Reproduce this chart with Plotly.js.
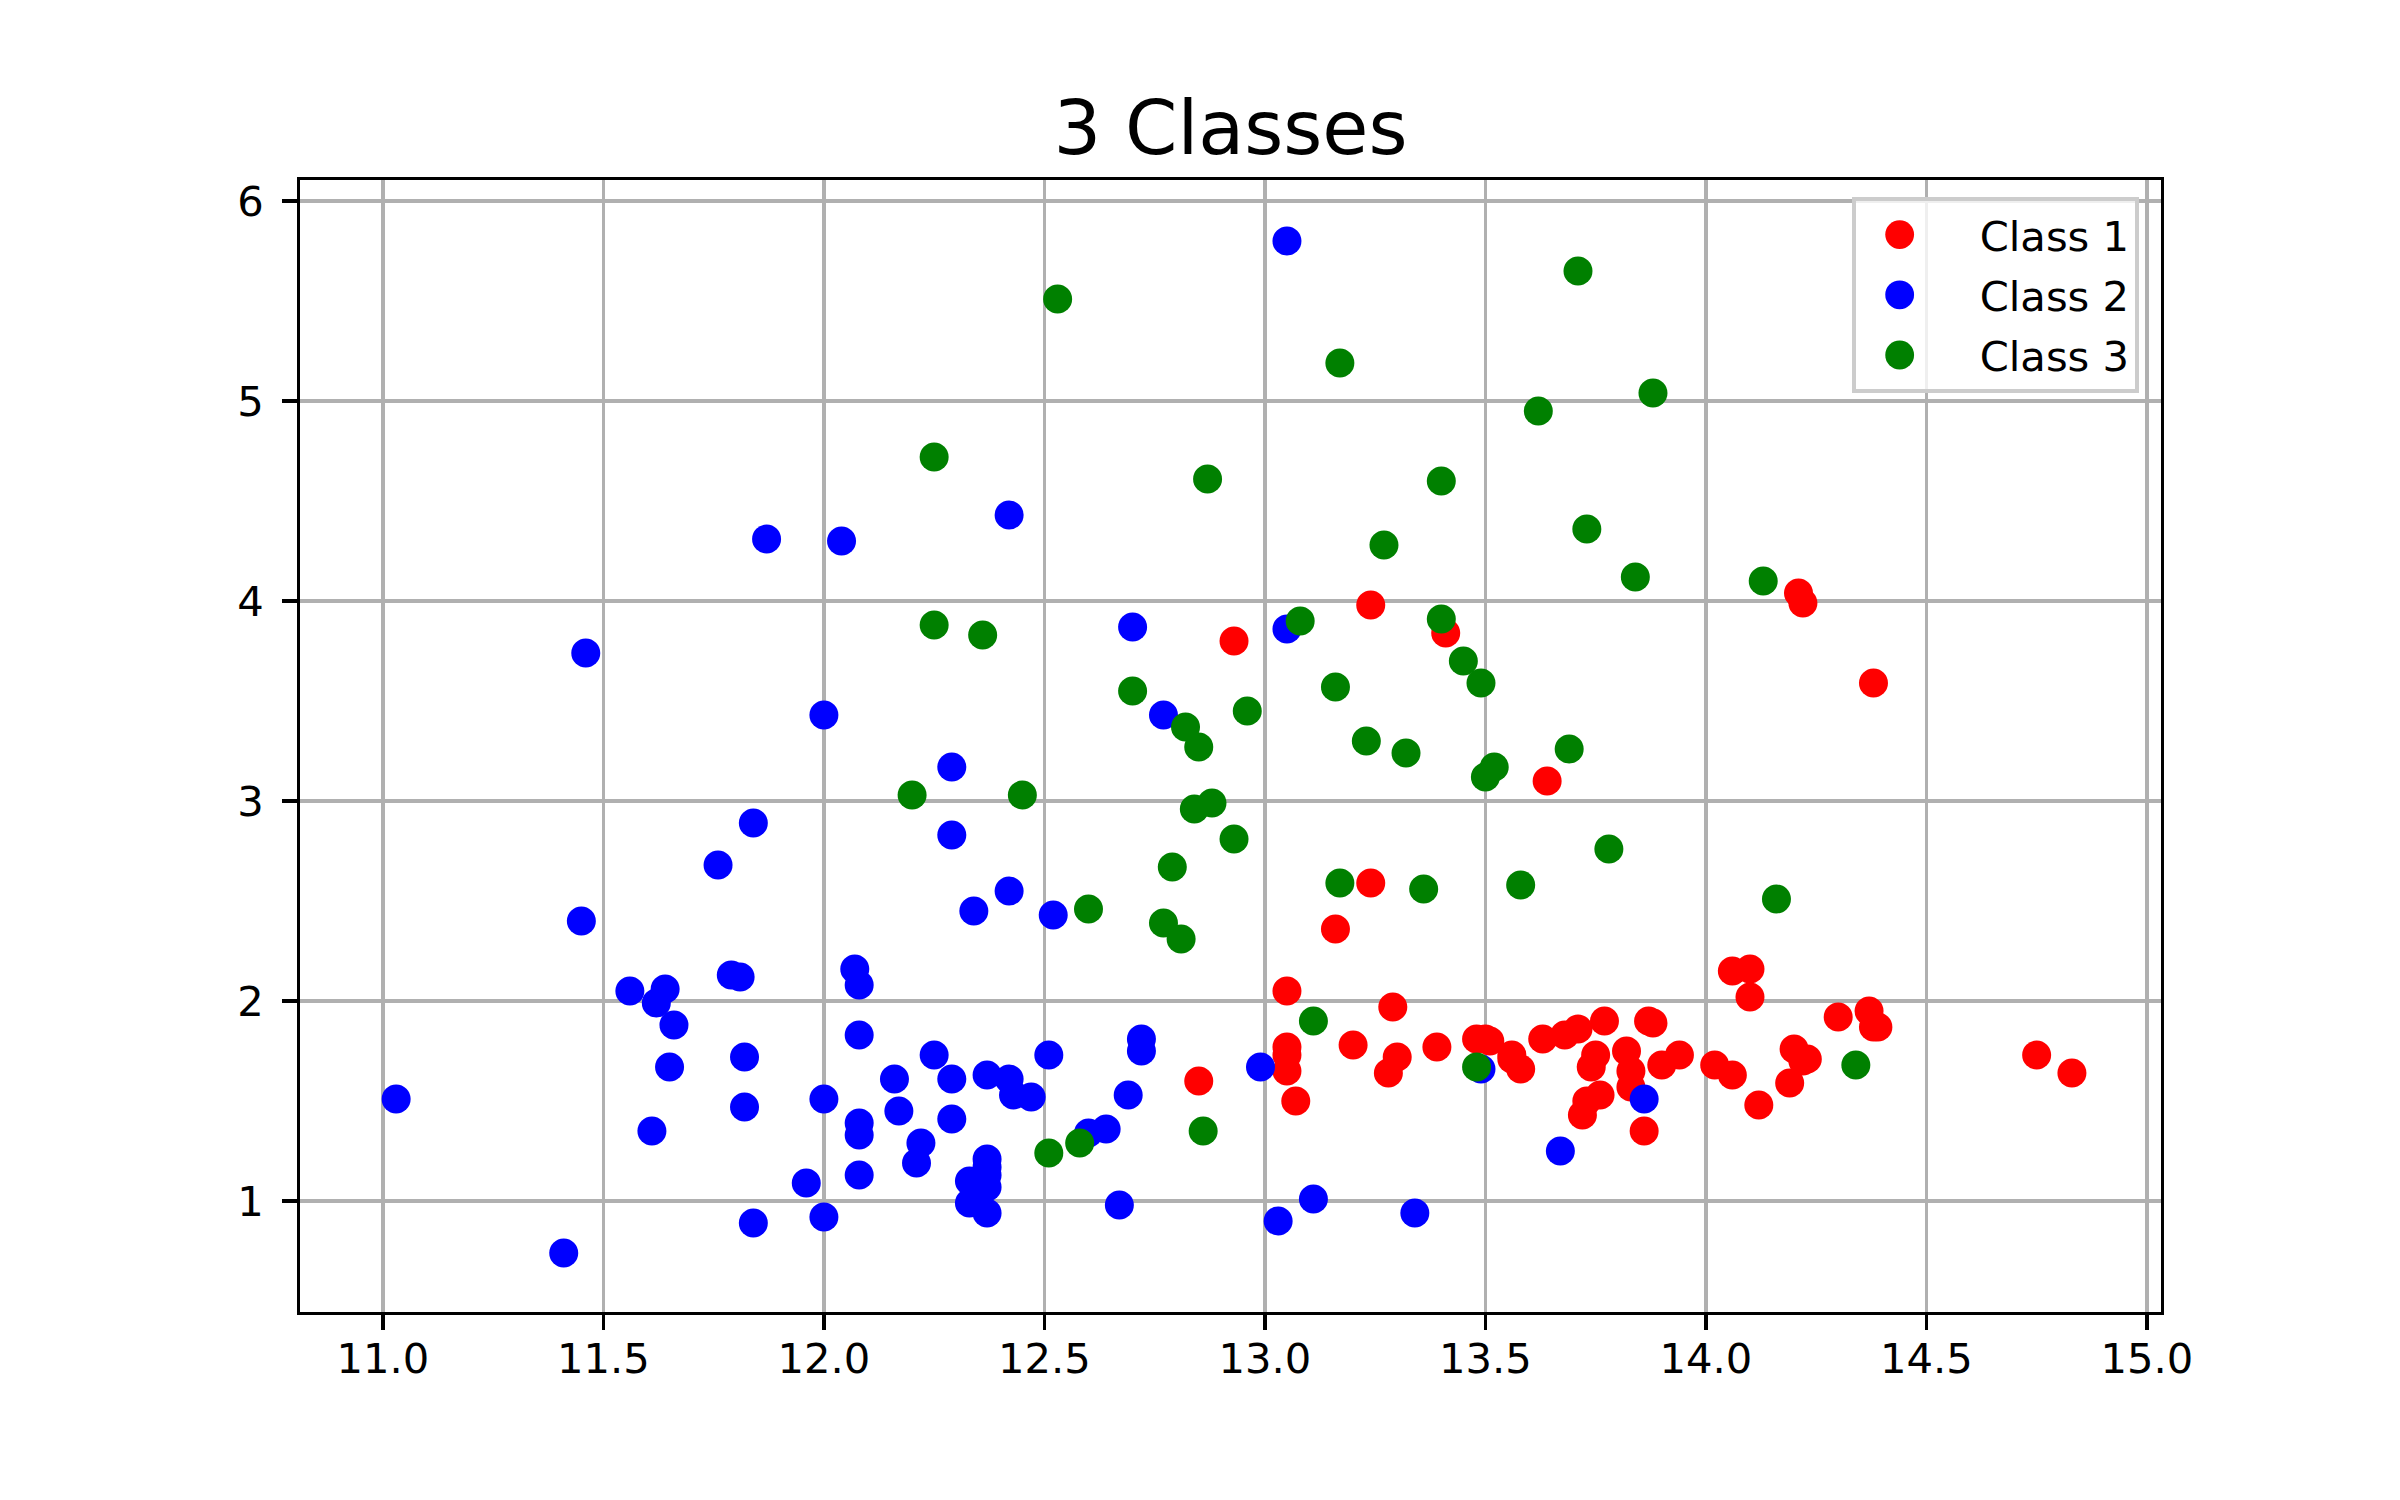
<!DOCTYPE html>
<html>
<head>
<meta charset="utf-8">
<script src="https://cdn.plot.ly/plotly-3.0.1.min.js"></script>
<style>
  html, body { margin: 0; padding: 0; background: #ffffff; }
  #chart { width: 2400px; height: 1500px; }
</style>
</head>
<body>
<div id="chart"></div>
<script>
"use strict";

// alcohol (x) vs malic acid (y), one pair of arrays per class
var class1X = [14.23, 13.2, 13.16, 14.37, 13.24, 14.2, 14.39, 14.06, 14.83, 13.86, 14.1, 14.12, 13.75, 14.75, 14.38, 13.63, 14.3, 13.83, 14.19, 13.64, 14.06, 12.93, 13.71, 12.85, 13.5, 13.05, 13.39, 13.3, 13.87, 14.02, 13.73, 13.58, 13.68, 13.76, 13.51, 13.48, 13.28, 13.05, 13.07, 14.22, 13.56, 13.41, 13.88, 13.24, 13.05, 14.21, 14.38, 13.9, 14.1, 13.94, 13.05, 13.83, 13.82, 13.77, 13.74, 13.56, 14.22, 13.29, 13.72];
var class1Y = [1.71, 1.78, 2.36, 1.95, 2.59, 1.76, 1.87, 2.15, 1.64, 1.35, 2.16, 1.48, 1.73, 1.73, 1.87, 1.81, 1.92, 1.57, 1.59, 3.1, 1.63, 3.8, 1.86, 1.6, 1.81, 2.05, 1.77, 1.72, 1.9, 1.68, 1.5, 1.66, 1.83, 1.53, 1.8, 1.81, 1.64, 1.65, 1.5, 3.99, 1.71, 3.84, 1.89, 3.98, 1.77, 4.04, 3.59, 1.68, 2.02, 1.73, 1.73, 1.65, 1.75, 1.9, 1.67, 1.73, 1.7, 1.97, 1.43];

var class2X = [12.37, 12.33, 12.64, 13.67, 12.37, 12.17, 12.37, 13.11, 12.37, 13.34, 12.21, 12.29, 13.86, 13.49, 12.99, 11.96, 11.66, 13.03, 11.84, 12.33, 12.7, 12.0, 12.72, 12.08, 13.05, 11.84, 12.67, 12.16, 11.65, 11.64, 12.08, 12.08, 12.0, 12.69, 12.29, 11.62, 12.47, 11.81, 12.29, 12.37, 12.29, 12.08, 12.6, 12.34, 11.82, 12.51, 12.42, 12.25, 12.72, 12.22, 11.61, 11.46, 12.52, 11.76, 11.41, 12.08, 11.03, 11.82, 12.42, 12.77, 12.0, 11.45, 11.56, 12.42, 13.05, 11.87, 12.07, 12.43, 11.79, 12.37, 12.04];
var class2Y = [0.94, 1.1, 1.36, 1.25, 1.13, 1.45, 1.21, 1.01, 1.17, 0.94, 1.19, 1.61, 1.51, 1.66, 1.67, 1.09, 1.88, 0.9, 2.89, 0.99, 3.87, 0.92, 1.81, 1.13, 3.86, 0.89, 0.98, 1.61, 1.67, 2.06, 1.33, 1.83, 1.51, 1.53, 2.83, 1.99, 1.52, 2.12, 1.41, 1.07, 3.17, 2.08, 1.34, 2.45, 1.72, 1.73, 2.55, 1.73, 1.75, 1.29, 1.35, 3.74, 2.43, 2.68, 0.74, 1.39, 1.51, 1.47, 1.61, 3.43, 3.43, 2.4, 2.05, 4.43, 5.8, 4.31, 2.16, 1.53, 2.13, 1.63, 4.3];

var class3X = [12.86, 12.88, 12.81, 12.7, 12.51, 12.6, 12.25, 12.53, 13.49, 12.84, 12.93, 13.36, 13.52, 13.62, 12.25, 13.16, 13.88, 12.87, 13.32, 13.08, 13.5, 12.79, 13.11, 13.23, 12.58, 13.17, 13.84, 12.45, 14.34, 13.48, 12.36, 13.69, 12.85, 12.96, 13.78, 13.73, 13.45, 12.82, 13.58, 13.4, 12.2, 12.77, 14.16, 13.71, 13.4, 13.27, 13.17, 14.13];
var class3Y = [1.35, 2.99, 2.31, 3.55, 1.24, 2.46, 4.72, 5.51, 3.59, 2.96, 2.81, 2.56, 3.17, 4.95, 3.88, 3.57, 5.04, 4.61, 3.24, 3.9, 3.12, 2.67, 1.9, 3.3, 1.29, 5.19, 4.12, 3.03, 1.68, 1.67, 3.83, 3.26, 3.27, 3.45, 2.76, 4.36, 3.7, 3.37, 2.58, 4.6, 3.03, 2.39, 2.51, 5.65, 3.91, 4.28, 2.59, 4.1];

var classNames = ["Class 1", "Class 2", "Class 3"];
var classColors = ["red", "blue", "green"];

var xTicks = [11.0, 11.5, 12.0, 12.5, 13.0, 13.5, 14.0, 14.5, 15.0];
var yTicks = [1, 2, 3, 4, 5, 6];

var xs = [class1X, class2X, class3X];
var ys = [class1Y, class2Y, class3Y];

var data = [];
for (var i = 0; i < classNames.length; i++) {
    data.push({
        x: xs[i],
        y: ys[i],
        type: "scatter",
        mode: "markers",
        name: classNames[i],
        legendgroup: "g" + i,
        marker: { color: classColors[i], size: 29, line: { width: 0 } },
        hoverinfo: "none"
    });
}

var axisStyle = {
    showgrid: true,
    gridcolor: "#b0b0b0",
    gridwidth: 3.3,
    zeroline: false,
    showline: true,
    linecolor: "#000000",
    linewidth: 3.3,
    mirror: true,
    ticks: "outside",
    ticklen: 14.6,
    tickwidth: 3.3,
    tickcolor: "#000000",
    tickfont: { family: "DejaVu Sans", size: 41.7, color: "#000000" }
};

var layout = {
    width: 2400,
    height: 1500,
    paper_bgcolor: "#ffffff",
    plot_bgcolor: "#ffffff",
    font: { family: "DejaVu Sans", color: "#000000" },
    margin: { l: 300, r: 239, t: 180, b: 188, pad: 0 },
    title: {
        text: "3 Classes",
        font: { family: "DejaVu Sans", size: 75, color: "#000000" },
        x: 0.5,
        xref: "paper",
        xanchor: "center",
        y: 1 - 128 / 1500,
        yref: "container",
        yanchor: "middle"
    },
    xaxis: Object.assign({}, axisStyle, {
        range: [10.812, 15.032],
        tickmode: "array",
        tickvals: xTicks,
        ticktext: xTicks.map(function (v) { return v.toFixed(1); }),
        ticklabelstandoff: -7
    }),
    yaxis: Object.assign({}, axisStyle, {
        range: [0.445, 6.105],
        tickmode: "array",
        tickvals: yTicks,
        ticktext: yTicks.map(function (v) { return String(v); }),
        ticklabelstandoff: 10
    }),
    showlegend: true,
    legend: {
        x: 0.988,
        xanchor: "right",
        y: 0.985,
        yanchor: "top",
        xref: "paper",
        yref: "paper",
        bgcolor: "rgba(255,255,255,0.8)",
        bordercolor: "#cccccc",
        borderwidth: 4,
        font: { family: "DejaVu Sans", size: 41.7, color: "#000000" },
        itemwidth: 114,
        traceorder: "grouped",
        tracegroupgap: 3
    }
};

Plotly.newPlot("chart", data, layout, { staticPlot: true, displayModeBar: false }).then(function () {
    // legend dots are capped in size by plotly, scale them up to match the plot markers
    var pts = document.querySelectorAll(".legend .legendpoints path.scatterpts");
    for (var k = 0; k < pts.length; k++) {
        var t = pts[k].getAttribute("transform") || "";
        pts[k].setAttribute("transform", "translate(-18,0) " + t + " scale(1.8)");
    }
});
</script>
</body>
</html>
